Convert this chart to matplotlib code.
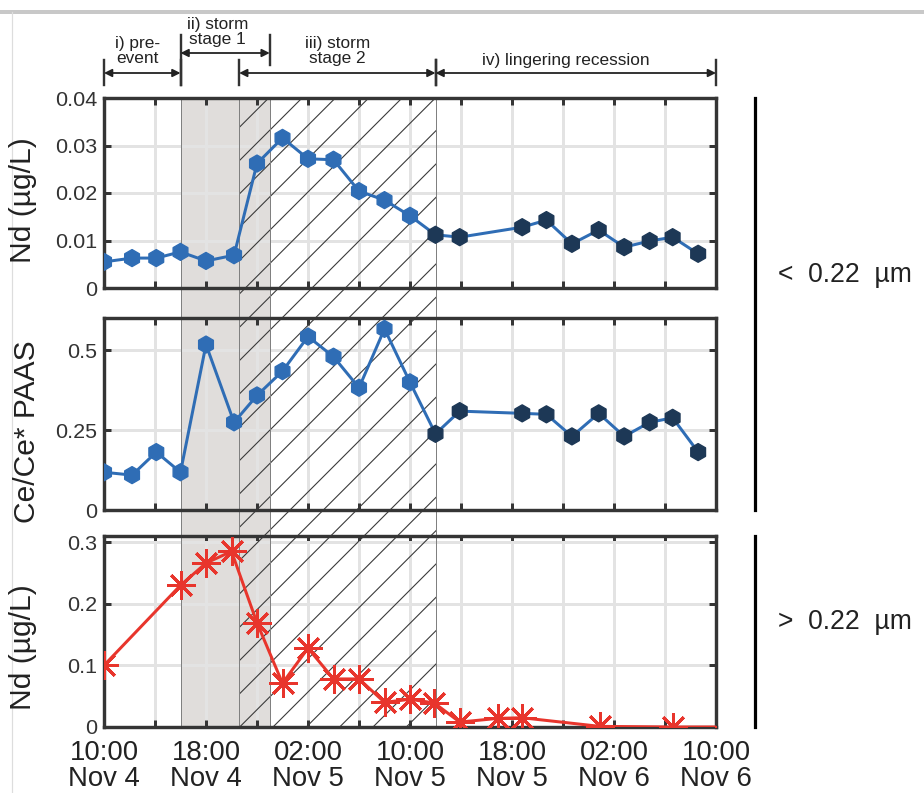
import numpy as np
import matplotlib
matplotlib.use('Agg')
import matplotlib.pyplot as plt
from matplotlib.lines import Line2D
from matplotlib.transforms import blended_transform_factory

W, H = 924, 793
DPI = 100


def pt(px):
    # pixel size -> points at the output dpi
    return px * 72.0 / DPI


plt.rcParams['font.family'] = ['Liberation Sans', 'DejaVu Sans']
plt.rcParams['hatch.linewidth'] = pt(1.1)

# time axis: hours after 10:00 Nov 4
t_small = [0, 2.2, 4.1, 6.0, 8.0, 10.2, 12.0, 14.0, 16.0, 18.0, 20.0, 22.0, 24.0, 26.0, 27.9,
           32.8, 34.7, 36.7, 38.8, 40.8, 42.8, 44.6, 46.6]
nd_small = [0.0055, 0.0063, 0.0063, 0.0076, 0.0057, 0.0069, 0.0262, 0.0316, 0.0272, 0.0270,
            0.0204, 0.0185, 0.0152, 0.0112, 0.0107, 0.0128, 0.0143, 0.0093, 0.0122, 0.0086,
            0.0099, 0.0107, 0.0072]
ce_anom = [0.118, 0.109, 0.181, 0.118, 0.517, 0.274, 0.358, 0.434, 0.542, 0.479, 0.382, 0.566,
           0.399, 0.238, 0.309, 0.302, 0.299, 0.230, 0.302, 0.230, 0.274, 0.288, 0.181]
t_large = [0, 6.0, 8.0, 10.0, 12.0, 14.0, 16.0, 18.0, 20.0, 22.0, 24.0, 25.9, 27.9, 30.9,
           32.8, 38.9, 44.6, 49.0]
nd_large = [0.100, 0.230, 0.266, 0.285, 0.169, 0.071, 0.128, 0.078, 0.078, 0.040, 0.045,
            0.039, 0.008, 0.014, 0.015, 0.001, 0.0, 0.0]

tick_labels = ['10:00\nNov 4', '18:00\nNov 4', '02:00\nNov 5', '10:00\nNov 5',
               '18:00\nNov 5', '02:00\nNov 6', '10:00\nNov 6']
phase_names = ['i) pre-\nevent', 'ii) storm\nstage 1', 'iii) storm\nstage 2', 'iv) lingering recession']
phases = [(0, 6.0), (6.0, 13.0), (10.6, 26.0), (26.0, 48.0)]

# colours
blue = '#2f6db5'
navy = '#1d3856'
red = '#e8352c'
gray = '#e0dddb'
grid_c = '#e3e3e3'
spine_c = '#353535'

fig = plt.figure(figsize=(W / DPI, H / DPI), dpi=DPI)


def fy(py):
    return 1 - py / H


left, width = 104 / W, 612 / W
boxes = [(98, 288), (318, 510), (536, 727)]

# background axis so the shading runs through the gaps between panels
bg = fig.add_axes([left, fy(727), width, (727 - 98) / H], zorder=0)
bg.set_xlim(0, 48)
bg.axis('off')


def shade(ax, z):
    ax.axvspan(phases[1][0], phases[1][1], color=gray, lw=0, zorder=z)
    ax.axvspan(phases[2][0], phases[2][1], facecolor='none', edgecolor='#3a3a3a',
               hatch='/', lw=0, zorder=z + 0.2)
    for xb in [phases[1][0], phases[2][0], phases[1][1], phases[2][1]]:
        ax.axvline(xb, color='#808080', lw=pt(1), zorder=z + 0.2)


shade(bg, 0.4)

axes = []
for top, bot in boxes:
    ax = fig.add_axes([left, fy(bot), width, (bot - top) / H], zorder=2)
    ax.set_facecolor('white')
    ax.set_xlim(0, 48)
    ax.set_xticks(np.arange(0, 49, 4))
    ax.set_xticklabels([])
    ax.grid(True, color=grid_c, lw=pt(3), zorder=0.5)
    ax.set_axisbelow(True)
    shade(ax, 0.4)
    for s in ax.spines.values():
        s.set_color(spine_c)
        s.set_linewidth(pt(3.4))
    ax.tick_params(direction='in', length=pt(7), width=pt(3), color=spine_c,
                   top=True, right=True, labelsize=pt(21.5), labelcolor='#333333')
    ax.tick_params(axis='y', pad=pt(7))
    axes.append(ax)

ax1, ax2, ax3 = axes

mcols = [blue] * 13 + [navy] * 10
hex_s = pt(17) ** 2

# Nd < 0.22 um
ax1.plot(t_small, nd_small, color=blue, lw=pt(3), zorder=3)
ax1.scatter(t_small, nd_small, marker='h', s=hex_s, c=mcols, edgecolors=mcols, zorder=4)
ax1.set_ylim(0, 0.04)
ax1.set_yticks([0, 0.01, 0.02, 0.03, 0.04])
ax1.set_yticklabels(['0', '0.01', '0.02', '0.03', '0.04'])
ax1.set_ylabel('Nd (µg/L)', fontsize=pt(30), color='#222222')
ax1.yaxis.set_label_coords(-0.11, 0.46)

# Ce anomaly
ax2.plot(t_small, ce_anom, color=blue, lw=pt(3), zorder=3)
ax2.scatter(t_small, ce_anom, marker='h', s=hex_s, c=mcols, edgecolors=mcols, zorder=4)
ax2.set_ylim(0, 0.6)
ax2.set_yticks([0, 0.25, 0.5])
ax2.set_yticklabels(['0', '0.25', '0.5'])
ax2.set_ylabel('Ce/Ce* PAAS', fontsize=pt(30), color='#222222')
ax2.yaxis.set_label_coords(-0.103, 0.41)

# Nd > 0.22 um
ax3.plot(t_large, nd_large, color=red, lw=pt(3), marker=(8, 2, 0), ms=pt(29), mew=pt(3),
         mec=red, zorder=3)
ax3.set_ylim(0, 0.31)
ax3.set_yticks([0, 0.1, 0.2, 0.3])
ax3.set_yticklabels(['0', '0.1', '0.2', '0.3'])
ax3.set_ylabel('Nd (µg/L)', fontsize=pt(30), color='#222222')
ax3.yaxis.set_label_coords(-0.11, 0.42)
xl = []
for i in range(13):
    xl.append(tick_labels[i // 2] if i % 2 == 0 else '')
ax3.set_xticklabels(xl, fontsize=pt(27.5), linespacing=1.0, color='#222222')
ax3.tick_params(axis='x', pad=pt(13))

# phase arrows on top
bt = blended_transform_factory(ax1.transData, fig.transFigure)
arrow_y = [73, 53, 73, 73]
label_x = [2.6, 8.9, 18.3, 36.2]
label_y = [51, 32, 51, 61]
for (x0, x1), ay, name, lx, ly in zip(phases, arrow_y, phase_names, label_x, label_y):
    ax1.annotate('', xy=(x1, fy(ay)), xytext=(x0, fy(ay)), xycoords=bt, textcoords=bt,
                 arrowprops=dict(arrowstyle='<|-|>', color='#222222', lw=pt(1.8),
                                 mutation_scale=pt(16), shrinkA=0, shrinkB=0),
                 annotation_clip=False)
    fig.text(lx, fy(ly), name, transform=bt, ha='center', va='center',
             fontsize=pt(17.3), linespacing=1.0, color='#222222')
    top_y = 35 if ay < 60 else 60
    for xb in (x0, x1):
        fig.add_artist(Line2D([xb, xb], [fy(top_y), fy(85 if xb == 6.0 else ay + 12)],
                              transform=bt, color='#333333', lw=pt(2.4)))

# size fraction bars on the right
bx = 755 / W
p1, p2, p3 = [a.get_position() for a in axes]
fig.add_artist(Line2D([bx, bx], [p2.y0, p1.y1], transform=fig.transFigure, color='black', lw=pt(3.2)))
fig.add_artist(Line2D([bx, bx], [p3.y0, p3.y1], transform=fig.transFigure, color='black', lw=pt(3.2)))
fig.text(778 / W, fy(275), '<  0.22  µm', fontsize=pt(26.5), va='center', color='#222222')
fig.text(778 / W, fy(622), '>  0.22  µm', fontsize=pt(26.5), va='center', color='#222222')

# screenshot frame
fig.add_artist(Line2D([0, 1], [fy(12), fy(12)], transform=fig.transFigure, color='#c8c8c8', lw=pt(4)))
fig.add_artist(Line2D([12 / W, 12 / W], [0, fy(12)], transform=fig.transFigure, color='#dddddd', lw=pt(1.2)))

fig.savefig('out.png', dpi=DPI, facecolor='white')
